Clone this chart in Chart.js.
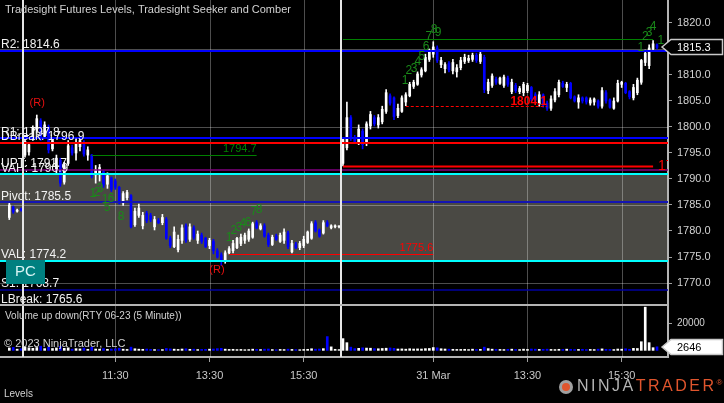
<html>
<head>
<script src="https://cdn.jsdelivr.net/npm/chart.js@4.4.0/dist/chart.umd.min.js"></script>
<style>
  body { margin: 0; background: #000; overflow: hidden; }
  #chart { display: block; }
</style>
</head>
<body>
<canvas id="chart" width="724" height="403"></canvas>
<script>
// 5 minute bars, rows are [open, high, low, close]
const preBars = [
  [1782.6, 1785.4, 1782.2, 1785.0], [1784.6, 1784.8, 1783.4, 1783.7],
  [1783.8, 1784.2, 1783.6, 1784.0], [1784.2, 1784.4, 1783.8, 1784.0],
];
const day1Bars = [
  [1794.6, 1797.8, 1794.2, 1797.2], [1795.2, 1797.0, 1794.6, 1796.6], [1797.6, 1800.2, 1797.4, 1799.8],
  [1799.4, 1802.3, 1798.8, 1801.6], [1801.2, 1801.6, 1797.4, 1798.0], [1798.2, 1801.0, 1797.8, 1800.4],
  [1800.0, 1800.4, 1795.0, 1795.6], [1795.8, 1797.9, 1795.4, 1797.4], [1791.6, 1794.6, 1791.2, 1794.0],
  [1793.6, 1794.0, 1788.6, 1789.2], [1789.4, 1793.2, 1789.0, 1792.6], [1793.0, 1797.4, 1792.6, 1796.4],
  [1796.0, 1796.5, 1794.6, 1795.0], [1795.0, 1797.6, 1793.6, 1796.8], [1796.2, 1797.8, 1795.4, 1797.4],
  [1797.0, 1797.4, 1794.4, 1794.8], [1794.6, 1796.2, 1793.6, 1795.6], [1794.6, 1794.7, 1790.2, 1790.6],
  [1790.8, 1792.6, 1789.2, 1791.8], [1791.0, 1792.8, 1789.6, 1792.2], [1791.4, 1791.6, 1788.4, 1788.8],
  [1789.0, 1791.2, 1788.2, 1790.6], [1790.2, 1790.4, 1787.6, 1788.0], [1789.6, 1790.0, 1788.0, 1788.4],
  [1788.4, 1788.6, 1785.2, 1785.4], [1785.4, 1787.6, 1784.9, 1787.2], [1786.4, 1787.8, 1786.0, 1787.4],
  [1786.8, 1787.0, 1780.6, 1780.8], [1781.2, 1784.4, 1780.9, 1783.8], [1783.0, 1785.2, 1782.6, 1784.4],
  [1781.0, 1783.6, 1780.4, 1783.0], [1783.4, 1783.8, 1781.6, 1782.0], [1783.0, 1783.4, 1781.8, 1782.2],
  [1780.8, 1782.8, 1780.2, 1782.2], [1782.0, 1782.4, 1781.4, 1781.6], [1781.6, 1783.2, 1781.2, 1782.6],
  [1782.2, 1782.6, 1778.4, 1778.6], [1778.6, 1779.0, 1776.8, 1777.2], [1777.0, 1780.8, 1776.8, 1779.8],
  [1776.4, 1779.2, 1776.0, 1778.4], [1778.2, 1781.2, 1777.6, 1780.6], [1781.0, 1781.4, 1777.8, 1778.2],
  [1778.4, 1781.4, 1778.0, 1780.8], [1780.6, 1781.0, 1778.4, 1778.8], [1778.2, 1780.0, 1777.6, 1779.4],
  [1779.2, 1779.6, 1777.6, 1778.0], [1778.6, 1778.8, 1776.8, 1777.0], [1777.2, 1778.6, 1776.6, 1778.2],
  [1778.0, 1778.4, 1775.6, 1776.2], [1776.2, 1776.6, 1774.8, 1775.0], [1775.4, 1775.8, 1773.4, 1774.2],
  [1774.2, 1776.2, 1773.8, 1775.8], [1775.8, 1777.0, 1775.6, 1776.6], [1776.2, 1778.2, 1775.8, 1777.6],
  [1776.8, 1778.8, 1776.6, 1778.6], [1777.6, 1779.4, 1777.2, 1778.8], [1778.2, 1779.6, 1777.6, 1779.2],
  [1778.4, 1780.4, 1778.0, 1780.0], [1778.8, 1781.7, 1778.6, 1781.4], [1781.6, 1782.0, 1780.4, 1780.6],
  [1780.4, 1781.4, 1780.2, 1781.0], [1781.0, 1781.4, 1778.8, 1779.0], [1779.2, 1779.6, 1777.0, 1777.4],
  [1777.4, 1779.2, 1777.2, 1778.8], [1779.0, 1779.4, 1778.2, 1778.4], [1778.0, 1779.6, 1777.8, 1779.2],
  [1778.2, 1780.4, 1777.6, 1779.8], [1779.6, 1780.0, 1776.6, 1777.0], [1776.0, 1778.2, 1775.8, 1777.6],
  [1777.4, 1777.8, 1776.6, 1776.8], [1776.8, 1778.0, 1776.4, 1777.6], [1777.2, 1779.0, 1776.8, 1778.4],
  [1777.8, 1780.0, 1777.6, 1779.8], [1778.6, 1781.8, 1778.4, 1781.4], [1781.6, 1782.0, 1779.8, 1780.0],
  [1780.2, 1780.4, 1778.8, 1779.0], [1779.6, 1782.0, 1779.4, 1781.6], [1781.6, 1782.0, 1780.8, 1781.0],
  [1780.6, 1781.2, 1780.4, 1781.0], [1780.8, 1781.2, 1780.6, 1781.0], [1780.8, 1781.0, 1780.6, 1780.9],
];
const day2Bars = [
  [1793.0, 1798.0, 1792.5, 1797.6], [1796.0, 1804.8, 1795.6, 1801.8], [1801.8, 1802.2, 1797.4, 1797.8],
  [1797.8, 1798.4, 1796.8, 1797.2], [1797.0, 1800.4, 1796.6, 1799.6], [1799.2, 1799.6, 1795.8, 1796.6],
  [1796.8, 1801.0, 1796.4, 1800.6], [1800.2, 1803.0, 1799.6, 1802.4], [1801.8, 1802.2, 1800.2, 1800.6],
  [1800.4, 1802.4, 1799.8, 1801.8], [1801.0, 1804.0, 1800.6, 1803.4], [1803.0, 1807.2, 1802.6, 1806.6],
  [1806.0, 1806.4, 1804.2, 1804.6], [1805.6, 1805.8, 1801.4, 1802.0], [1802.2, 1804.4, 1801.8, 1803.6],
  [1803.0, 1806.0, 1802.8, 1805.6], [1804.8, 1806.6, 1804.1, 1806.2], [1806.0, 1808.6, 1805.8, 1808.2],
  [1807.8, 1809.0, 1807.4, 1808.6], [1808.2, 1810.6, 1808.0, 1810.2], [1810.0, 1811.4, 1809.6, 1811.0],
  [1810.8, 1814.0, 1810.6, 1813.4], [1813.0, 1815.0, 1812.6, 1814.4], [1814.0, 1816.4, 1813.4, 1815.4],
  [1815.2, 1815.6, 1812.4, 1812.8], [1812.0, 1813.4, 1811.4, 1812.8], [1811.2, 1812.4, 1810.4, 1812.0],
  [1812.2, 1812.6, 1810.6, 1811.0], [1810.8, 1813.0, 1810.2, 1812.4], [1810.6, 1812.0, 1809.6, 1811.4],
  [1811.4, 1813.4, 1811.0, 1812.8], [1812.6, 1814.0, 1812.2, 1813.4], [1812.8, 1813.8, 1812.4, 1813.2],
  [1813.0, 1814.2, 1812.6, 1813.8], [1813.8, 1814.2, 1812.4, 1812.8], [1812.6, 1814.4, 1812.2, 1814.0],
  [1813.4, 1813.8, 1806.6, 1807.2], [1807.0, 1809.2, 1806.4, 1808.6], [1808.0, 1810.2, 1807.6, 1809.8],
  [1809.2, 1809.6, 1808.2, 1808.6], [1808.4, 1809.6, 1808.2, 1809.4], [1808.0, 1810.0, 1807.6, 1809.6],
  [1809.4, 1809.8, 1807.8, 1808.2], [1806.8, 1809.2, 1806.4, 1808.6], [1808.0, 1808.4, 1806.6, 1807.0],
  [1806.8, 1807.8, 1806.4, 1807.4], [1806.6, 1808.6, 1806.0, 1808.2], [1807.0, 1808.4, 1806.6, 1808.0],
  [1807.6, 1807.8, 1805.0, 1805.4], [1806.2, 1806.6, 1804.8, 1805.2], [1804.4, 1806.8, 1804.0, 1806.2],
  [1806.2, 1806.4, 1803.8, 1804.2], [1804.6, 1805.0, 1803.2, 1803.6], [1803.6, 1806.0, 1803.2, 1805.4],
  [1805.2, 1807.4, 1804.8, 1806.8], [1806.2, 1809.0, 1805.8, 1808.6], [1808.4, 1808.8, 1807.6, 1807.8],
  [1807.6, 1808.6, 1806.8, 1808.2], [1808.4, 1808.6, 1805.4, 1805.6], [1805.8, 1806.0, 1804.8, 1805.0],
  [1804.8, 1806.2, 1803.6, 1805.6], [1805.6, 1805.8, 1804.6, 1805.0], [1805.6, 1805.8, 1804.4, 1804.8],
  [1804.6, 1805.6, 1804.2, 1805.2], [1804.8, 1805.6, 1804.2, 1805.4], [1805.0, 1805.2, 1803.6, 1804.0],
  [1804.0, 1807.6, 1803.6, 1807.0], [1806.6, 1807.0, 1804.6, 1805.0], [1805.2, 1805.4, 1803.6, 1803.8],
  [1803.6, 1805.6, 1803.4, 1805.0], [1805.0, 1809.0, 1804.8, 1808.4], [1808.2, 1808.8, 1807.6, 1808.6],
  [1808.4, 1808.6, 1806.4, 1806.6], [1806.8, 1807.0, 1805.4, 1805.8], [1805.6, 1808.2, 1805.2, 1807.6],
  [1806.6, 1809.4, 1806.2, 1809.0], [1808.6, 1813.0, 1808.2, 1812.8], [1812.4, 1814.8, 1811.8, 1814.2],
  [1811.8, 1815.8, 1811.2, 1815.2], [1815.0, 1816.6, 1814.8, 1816.0], [1815.8, 1816.0, 1815.0, 1815.3],
];

const preVolume = [1800, 2200, 900, 1200];
const day1Volume = [
  2600, 1900, 1500, 2100, 3100, 1300, 2500, 1400, 1800, 2900,
  1500, 1900, 900, 1300, 1100, 1700, 800, 2300, 1000, 900,
  1300, 800, 1000, 1100, 1600, 900, 700, 2400, 1200, 900,
  800, 1000, 700, 600, 500, 600, 1400, 1100, 900, 700,
  1000, 1200, 800, 900, 600, 700, 800, 900, 1000, 1300,
  1500, 900, 700, 800, 600, 700, 500, 600, 900, 800,
  600, 900, 1000, 600, 500, 700, 600, 900, 700, 600,
  500, 700, 800, 1200, 900, 1000, 1300, 10200, 2600, 800, 600,
];
const day2Volume = [
  8700, 5700, 2400, 1300, 1500, 1900, 1700, 1600, 1300, 1200,
  1400, 1600, 1800, 1500, 1000, 1100, 900, 1200, 1000, 1100,
  1000, 1300, 1400, 2100, 1900, 1200, 1000, 900, 800, 700,
  700, 800, 600, 900, 700, 800, 2400, 1300, 900, 800,
  700, 600, 800, 900, 700, 600, 900, 700, 1000, 900,
  700, 800, 900, 700, 600, 800, 700, 900, 800, 600,
  700, 800, 600, 700, 600, 900, 1100, 800, 700, 600,
  1000, 900, 1200, 800, 1500, 1400, 6400, 32000, 5700, 2000, 2646,
];

// time axis: bar numbers of the labelled grid lines, session starts
const tickBars = [23, 47, 71, 104, 128, 152];
const tickLabels = ["11:30", "13:30", "15:30", "31 Mar", "13:30", "15:30"];
const sessionBreaks = [-0.5, 80.5];
const priceGrid = [1770, 1785, 1800, 1815];

// Tradesight levels
const levelNames = ["R2", "R1", "DBreak", "UPT", "VAH", "Pivot", "VAL", "S1", "LBreak"];
const levelValues = [1814.6, 1797.8, 1796.9, 1791.7, 1790.9, 1785.5, 1774.2, 1768.7, 1765.6];

// short level segments (price, first bar, last bar, text)
const segValues = [1794.7, 1775.6, 1792.5, 1816.9, 1804.1];
const segFrom = [17, 52, 81, 81, 97];
const segTo = [59, 104, 160, 160, 133];
const segTexts = ["1794.7", "1775.6", "1792.5", "", "1804.1"];

// Seeker counts and (R) marks
const countBars = [17.3, 18.3, 19.1, 20.4, 20.9, 21.9, 24.5,
  52.0, 53.2, 54.5, 55.5, 56.8, 58.3, 59.6,
  96.8, 97.8, 99.1, 100.1, 101.1, 102.2, 102.9, 104.2, 105.2,
  156.9, 158.0, 159.0, 160.0, 162.0];
const countPrices = [1787.1, 1787.3, 1788.1, 1786.0, 1784.4, 1786.2, 1782.7,
  1778.8, 1780.0, 1780.6, 1781.4, 1781.6, 1783.7, 1784.1,
  1809.0, 1810.8, 1811.3, 1812.5, 1813.5, 1815.4, 1817.3, 1818.7, 1818.1,
  1815.2, 1817.3, 1818.1, 1819.2, 1816.5];
const countTexts = ["1", "2", "3", "1", "5", "6", "8",
  "1", "2", "3", "4", "6", "7", "8",
  "1", "2", "3", "4", "5", "6", "7", "8", "9",
  "1", "2", "3", "4", "1"];
const reversalBars = [3.1, 48.9];
const reversalPrices = [1804.6, 1772.5];

const firstBar = -4;
const bars = preBars.concat(day1Bars, day2Bars);
const volumes = preVolume.concat(day1Volume, day2Volume);
const barX = bars.map((b, k) => k + firstBar);
const barColors = bars.map((b) => (b[3] >= b[0] ? "#ffffff" : "#0000ff"));

const FONT = "'Liberation Sans', Arial, sans-serif";
const levelColors = ["#0000ff", "#0000ff", "#ff0000", "#800080", "#00ffff", "#1414b4", "#00ffff", "#0000a0", "#808080"];
const segColors = ["#008000", "#ff0000", "#ff0000", "#008000", "#ff0000"];
const gridGrey = "rgba(255,255,255,0.3)";

const noPadding = (s) => {
  s.paddingTop = 0;
  s.paddingBottom = 0;
  s.paddingLeft = 0;
  s.paddingRight = 0;
};

const overlay = {
  id: "overlay",
  beforeDraw(chart) {
    const { ctx, chartArea: a, scales } = chart;
    const y = scales.y;
    ctx.save();
    ctx.fillStyle = "#000";
    ctx.fillRect(0, 0, chart.width, chart.height);
    // value area shade
    const top = y.getPixelForValue(levelValues[4]);
    const bot = y.getPixelForValue(levelValues[6]);
    ctx.fillStyle = "#4a4944";
    ctx.fillRect(a.left, top, a.right - a.left, bot - top);
    ctx.restore();
  },
  beforeDatasetsDraw(chart) {
    const { ctx, chartArea: a, scales } = chart;
    const x = scales.x, y = scales.y;
    ctx.save();
    ctx.strokeStyle = gridGrey;
    ctx.lineWidth = 1;
    tickBars.forEach((b) => {
      const px = Math.round(x.getPixelForValue(b)) + 0.5;
      ctx.beginPath();
      ctx.moveTo(px, a.top);
      ctx.lineTo(px, a.bottom);
      ctx.stroke();
    });
    priceGrid.forEach((v) => {
      const py = Math.round(y.getPixelForValue(v)) + 0.5;
      ctx.beginPath();
      ctx.moveTo(a.left, py);
      ctx.lineTo(a.right, py);
      ctx.stroke();
    });
    ctx.restore();
  },
  afterDatasetsDraw(chart) {
    const { ctx, chartArea: a, scales } = chart;
    const x = scales.x, y = scales.y;
    ctx.save();
    ctx.beginPath();
    ctx.rect(a.left, y.top, a.right - a.left, y.bottom - y.top);
    ctx.clip();

    // full width levels
    levelValues.forEach((v, k) => {
      const py = Math.round(y.getPixelForValue(v));
      ctx.strokeStyle = levelColors[k];
      ctx.lineWidth = k === 3 || k === 7 ? 1.5 : 2;
      ctx.beginPath();
      ctx.moveTo(a.left, py);
      ctx.lineTo(a.right, py);
      ctx.stroke();
    });

    // segments
    segValues.forEach((v, k) => {
      const py = Math.round(y.getPixelForValue(v)) + 0.5;
      const x0 = x.getPixelForValue(segFrom[k]);
      const x1 = x.getPixelForValue(segTo[k]);
      ctx.strokeStyle = segColors[k];
      ctx.lineWidth = k === 2 ? 2 : 1;
      ctx.setLineDash(k === 4 ? [3, 2] : []);
      ctx.beginPath();
      ctx.moveTo(x0, py);
      ctx.lineTo(x1, py);
      ctx.stroke();
      ctx.setLineDash([]);
      if (!segTexts[k]) return;
      ctx.fillStyle = segColors[k];
      ctx.textBaseline = "bottom";
      if (k === 2) {
        ctx.font = "14px " + FONT;
        ctx.textAlign = "left";
        ctx.textBaseline = "middle";
        ctx.fillText(segTexts[k], x1 + 5, py);
      } else if (k === 4) {
        ctx.font = "bold 12px " + FONT;
        ctx.textAlign = "right";
        ctx.fillText(segTexts[k], x1, py + 1);
      } else {
        ctx.font = "11px " + FONT;
        ctx.textAlign = "right";
        ctx.fillText(segTexts[k], x1, py - 1);
      }
    });

    // level labels
    ctx.font = "12px " + FONT;
    ctx.fillStyle = "#f2f2f2";
    ctx.textAlign = "left";
    ctx.textBaseline = "bottom";
    levelNames.forEach((name, k) => {
      const py = y.getPixelForValue(levelValues[k]);
      ctx.fillText(name + ": " + levelValues[k].toFixed(1), 1, py);
    });

    // seeker counts
    ctx.font = "12px " + FONT;
    ctx.fillStyle = "#1a8a1a";
    ctx.textAlign = "center";
    ctx.textBaseline = "middle";
    countTexts.forEach((t, k) => {
      ctx.fillText(t, x.getPixelForValue(countBars[k]), y.getPixelForValue(countPrices[k]));
    });
    ctx.font = "11px " + FONT;
    ctx.fillStyle = "#e81010";
    reversalBars.forEach((b, k) => {
      ctx.fillText("(R)", x.getPixelForValue(b), y.getPixelForValue(reversalPrices[k]));
    });
    ctx.restore();

    // session breaks
    ctx.save();
    ctx.strokeStyle = "#e6e6e6";
    ctx.lineWidth = 2;
    sessionBreaks.forEach((b) => {
      const px = Math.round(x.getPixelForValue(b));
      ctx.beginPath();
      ctx.moveTo(px, a.top);
      ctx.lineTo(px, a.bottom);
      ctx.stroke();
    });
    ctx.restore();
  },
  afterDraw(chart) {
    const { ctx, chartArea: a, scales } = chart;
    const y = scales.y, yv = scales.yv;
    ctx.save();
    // panel separator
    ctx.strokeStyle = "#b4b4b4";
    ctx.lineWidth = 2;
    ctx.beginPath();
    ctx.moveTo(a.left, Math.round(y.bottom));
    ctx.lineTo(a.right, Math.round(y.bottom));
    ctx.stroke();

    // titles
    ctx.textAlign = "left";
    ctx.textBaseline = "middle";
    ctx.fillStyle = "#d2d2d2";
    ctx.font = "11px " + FONT;
    ctx.fillText("Tradesight Futures Levels, Tradesight Seeker and Comber", 5, 10);
    ctx.font = "10px " + FONT;
    ctx.fillText("Volume up down(RTY 06-23 (5 Minute))", 5, yv.top + 11);
    ctx.font = "11px " + FONT;
    ctx.fillText("\u00a9 2023 NinjaTrader, LLC", 4, yv.top + 39);
    ctx.font = "10px " + FONT;
    ctx.fillText("Levels", 4, chart.height - 9);

    // PC button
    ctx.fillStyle = "#008080";
    ctx.fillRect(6, 260, 39, 24);
    ctx.fillStyle = "#d8f4f4";
    ctx.font = "15px " + FONT;
    ctx.textAlign = "center";
    ctx.fillText("PC", 25.5, 272);

    // last value tags
    const tag = (py, text, fill, color) => {
      const r = a.right;
      ctx.beginPath();
      ctx.moveTo(r - 6, py);
      ctx.lineTo(r + 3, py - 7.5);
      ctx.lineTo(chart.width - 1.5, py - 7.5);
      ctx.lineTo(chart.width - 1.5, py + 7.5);
      ctx.lineTo(r + 3, py + 7.5);
      ctx.closePath();
      ctx.fillStyle = fill;
      ctx.fill();
      ctx.strokeStyle = "#c8c8c8";
      ctx.lineWidth = 1.5;
      ctx.stroke();
      ctx.fillStyle = color;
      ctx.font = "11px " + FONT;
      ctx.textAlign = "left";
      ctx.fillText(text, r + 9, py + 0.5);
    };
    const last = bars[bars.length - 1][3];
    tag(Math.round(y.getPixelForValue(last)), last.toFixed(1), "#000", "#ffffff");
    const lastVol = volumes[volumes.length - 1];
    tag(Math.round(yv.getPixelForValue(lastVol)), String(lastVol), "#ffffff", "#000");

    // logo
    const ly = chart.height - 16;
    ctx.beginPath();
    ctx.arc(566, ly, 7, 0, Math.PI * 2);
    ctx.fillStyle = "#a0a0a0";
    ctx.fill();
    ctx.beginPath();
    ctx.arc(566, ly, 4, 0, Math.PI * 2);
    ctx.fillStyle = "#e0552d";
    ctx.fill();
    ctx.font = "16px " + FONT;
    ctx.letterSpacing = "2.5px";
    ctx.textAlign = "left";
    ctx.fillStyle = "#b4b4b4";
    ctx.fillText("NINJA", 577, ly);
    const w = ctx.measureText("NINJA").width;
    ctx.fillStyle = "#e0552d";
    ctx.fillText("TRADER", 577 + w, ly);
    const w2 = ctx.measureText("TRADER").width;
    ctx.letterSpacing = "0px";
    ctx.font = "8px " + FONT;
    ctx.fillText("\u00ae", 577 + w + w2, ly - 4);
    ctx.restore();
  },
};

new Chart(document.getElementById("chart"), {
  type: "bar",
  data: {
    datasets: [
      {
        label: "wick",
        data: bars.map((b, k) => ({ x: barX[k], y: [b[2], b[1]] })),
        backgroundColor: barColors,
        barThickness: 1,
        grouped: false,
        yAxisID: "y",
      },
      {
        label: "body",
        data: bars.map((b, k) => ({ x: barX[k], y: [Math.min(b[0], b[3]), Math.max(b[0], b[3])] })),
        backgroundColor: barColors,
        barThickness: 2,
        minBarLength: 1,
        grouped: false,
        yAxisID: "y",
      },
      {
        label: "volume",
        data: volumes.map((v, k) => ({ x: barX[k], y: v })),
        backgroundColor: barColors,
        barThickness: 2,
        grouped: false,
        yAxisID: "yv",
      },
    ],
  },
  options: {
    responsive: false,
    animation: false,
    layout: { padding: 0 },
    plugins: { legend: { display: false }, tooltip: { enabled: false } },
    scales: {
      x: {
        type: "linear",
        min: -6.37,
        max: 163.8,
        offset: false,
        afterBuildTicks: (s) => {
          s.ticks = tickBars.map((v) => ({ value: v }));
        },
        afterFit: (s) => {
          s.height = 46;
          noPadding(s);
        },
        ticks: {
          autoSkip: false,
          maxRotation: 0,
          padding: 7,
          color: "#c8c8c8",
          font: { size: 11, family: FONT },
          callback: (v, i) => tickLabels[i],
        },
        grid: { offset: false, drawOnChartArea: false, tickColor: "#a0a0a0", tickLength: 5 },
        border: { color: "#b4b4b4", width: 2 },
      },
      y: {
        position: "right",
        stack: "panes",
        stackWeight: 305,
        min: 1765.77,
        max: 1824.42,
        afterFit: (s) => {
          s.width = 56;
          noPadding(s);
        },
        ticks: {
          stepSize: 5,
          includeBounds: false,
          padding: 5,
          color: "#d2d2d2",
          font: { size: 11, family: FONT },
          callback: (v) => v.toFixed(1),
        },
        grid: { drawOnChartArea: false, tickColor: "#a0a0a0", tickLength: 4 },
        border: { color: "#b4b4b4", width: 2 },
      },
      yv: {
        position: "right",
        stack: "panes",
        stackWeight: 52,
        min: -4900,
        max: 33580,
        afterFit: (s) => {
          s.width = 56;
          noPadding(s);
        },
        afterBuildTicks: (s) => {
          s.ticks = [{ value: 20000 }];
        },
        ticks: {
          padding: 5,
          color: "#d2d2d2",
          font: { size: 10, family: FONT },
          callback: (v) => String(v),
        },
        grid: { drawOnChartArea: false, tickColor: "#a0a0a0", tickLength: 4 },
        border: { color: "#b4b4b4", width: 2 },
      },
    },
  },
  plugins: [overlay],
});
</script>
</body>
</html>
